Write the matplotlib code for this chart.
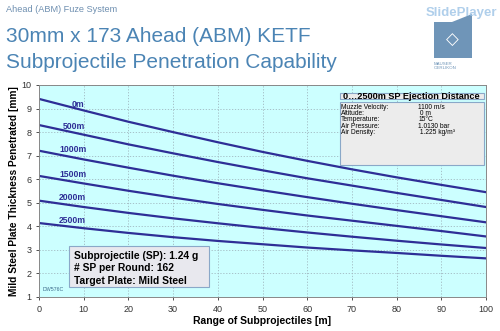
import numpy as np
import matplotlib
matplotlib.use("Agg")
import matplotlib.pyplot as plt
from matplotlib.patches import Rectangle, Polygon

plt.rcParams['font.family'] = ['Liberation Sans', 'DejaVu Sans']

# range of subprojectiles [m]
rng = [0, 10, 20, 30, 40, 50, 60, 70, 80, 90, 100]

# penetrated thickness [mm] per ejection distance
pen_0 = [9.41, 8.92, 8.44, 8.00, 7.57, 7.16, 6.78, 6.42, 6.08, 5.76, 5.45]
pen_500 = [8.30, 7.89, 7.48, 7.10, 6.73, 6.38, 6.04, 5.73, 5.42, 5.12, 4.82]
pen_1000 = [7.21, 6.84, 6.49, 6.15, 5.83, 5.53, 5.24, 4.96, 4.69, 4.43, 4.17]
pen_1500 = [6.14, 5.82, 5.51, 5.22, 4.95, 4.70, 4.46, 4.24, 4.02, 3.80, 3.57]
pen_2000 = [5.09, 4.82, 4.57, 4.34, 4.13, 3.93, 3.74, 3.56, 3.39, 3.23, 3.08]
pen_2500 = [4.14, 3.92, 3.72, 3.54, 3.38, 3.24, 3.10, 2.98, 2.87, 2.75, 2.64]

series = [pen_0, pen_500, pen_1000, pen_1500, pen_2000, pen_2500]
curve_labels = ['0m', '500m', '1000m', '1500m', '2000m', '2500m']
label_pos = [(7.4, 9.19), (5.4, 8.23), (4.5, 7.27), (4.5, 6.21), (4.5, 5.22), (4.5, 4.24)]

info_names = ['Muzzle Velocity:', 'Altitude:', 'Temperature:', 'Air Pressure:', 'Air Density:']
info_values = ['1100 m/s', ' 0 m', '15\u00b0C', '1.0130 bar', ' 1.225 kg/m\u00b3']
box_lines = ['Subprojectile (SP): 1.24 g', '# SP per Round: 162', 'Target Plate: Mild Steel']

navy = '#2e2e96'
title_col = '#4b84b4'

fig = plt.figure(figsize=(5, 3.31), dpi=100)
fig.patch.set_facecolor('white')

# slide header
fig.text(6 / 500, 1 - 10 / 331, 'Ahead (ABM) Fuze System', fontsize=6.6,
         color='#6e8fb0', va='center')
fig.text(6 / 500, 1 - 37 / 331, '30mm x 173 Ahead (ABM) KETF', fontsize=15,
         color=title_col, va='center')
fig.text(6 / 500, 1 - 63 / 331, 'Subprojectile Penetration Capability', fontsize=15,
         color=title_col, va='center')

# logo (rough)
logo = Polygon([(434 / 500, 1 - 22 / 331), (452 / 500, 1 - 22 / 331), (472 / 500, 1 - 14 / 331),
                (472 / 500, 1 - 58 / 331), (434 / 500, 1 - 58 / 331)], closed=True,
               transform=fig.transFigure, facecolor='#6f95b8', edgecolor='none')
fig.patches.append(logo)
fig.text(452 / 500, 1 - 40 / 331, '\u25c7', fontsize=12, color='white', ha='center', va='center')
fig.text(434 / 500, 1 - 66 / 331, 'MAUSER\nOERLIKON', fontsize=3.2, color='#6f95b8',
         va='center', linespacing=1.0)
fig.text(497 / 500, 1 - 13 / 331, 'SlidePlayer', fontsize=9.5, color='#9cc3e6',
         fontweight='bold', va='center', ha='right', alpha=0.8)

ax = fig.add_axes([39 / 500, 1 - 297 / 331, 447 / 500, 212 / 331])
ax.set_facecolor('#ccffff')

for vals in series:
    ax.plot(rng, vals, color=navy, lw=1.6)

for lab, (lx, ly) in zip(curve_labels, label_pos):
    ax.text(lx, ly, lab, fontsize=6.2, fontweight='bold', color=navy, va='center', ha='left')

ax.set_xlim(0, 100)
ax.set_ylim(1, 10)
ax.set_xticks(range(0, 101, 10))
ax.set_yticks(range(1, 11))
ax.grid(True, color='#a0b8c0', linestyle=(0, (1.5, 2)), lw=0.6)
ax.tick_params(labelsize=6.5, colors='#333333', length=2, width=0.6)
for sp in ax.spines.values():
    sp.set_color('#888888')
    sp.set_linewidth(0.7)

ax.set_xlabel('Range of Subprojectiles [m]', fontsize=7.5, fontweight='bold', labelpad=2)
ax.set_ylabel('Mild Steel Plate Thickness Penetrated [mm]', fontsize=7.3,
              fontweight='bold', labelpad=2)

# info boxes (upper right)
ax.add_patch(Rectangle((0.673, 0.933), 0.323, 0.028, transform=ax.transAxes,
                       facecolor='#ececec', edgecolor='#8aa8c8', lw=0.8, zorder=5))
ax.text(0.680, 0.947, '0\u20262500m SP Ejection Distance', transform=ax.transAxes,
        fontsize=6.6, fontweight='bold', va='center', zorder=6)
ax.add_patch(Rectangle((0.673, 0.623), 0.323, 0.298, transform=ax.transAxes,
                       facecolor='#ececec', edgecolor='#8aa8c8', lw=0.8, zorder=5))
for i, (nm, vl) in enumerate(zip(info_names, info_values)):
    yy = (297 - (107.3 + i * 6.25)) / 212
    ax.text(0.676, yy, nm, transform=ax.transAxes, fontsize=4.8, va='center', zorder=6)
    ax.text(0.848, yy, vl, transform=ax.transAxes, fontsize=4.8, va='center', zorder=6)

# lower-left box
ax.add_patch(Rectangle((0.067, 0.047), 0.313, 0.194, transform=ax.transAxes,
                       facecolor='#e8e8ee', edgecolor='#8aa8c8', lw=0.8, zorder=5))
for i, ln in enumerate(box_lines):
    yy = (297 - (255.7 + i * 12.5)) / 212
    ax.text(0.078, yy, ln, transform=ax.transAxes, fontsize=7.4, fontweight='bold',
            va='center', zorder=6)

ax.text(0.008, 0.035, 'DW576C', transform=ax.transAxes, fontsize=3.8, color='#3a6a8a',
        va='center')

fig.savefig('out.png', dpi=100)
